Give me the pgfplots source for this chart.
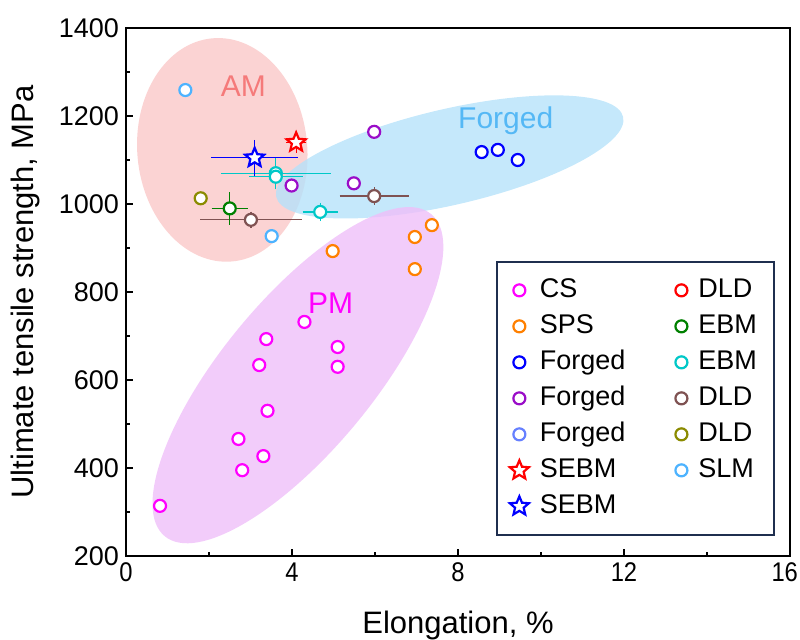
\documentclass[border=0pt]{standalone}
\usepackage{fontspec}
\setmainfont{Liberation Sans}
\usepackage{pgfplots}
\pgfplotsset{compat=1.18}
\usetikzlibrary{shapes.geometric}

\definecolor{cs}{HTML}{FF00FF}
\definecolor{sps}{HTML}{FF8000}
\definecolor{forgedA}{HTML}{0000FF}
\definecolor{forgedB}{HTML}{9A0DC8}
\definecolor{forgedC}{HTML}{6680FF}
\definecolor{sebmr}{HTML}{FF0000}
\definecolor{sebmb}{HTML}{0000FF}
\definecolor{dldr}{HTML}{FF0000}
\definecolor{ebmg}{HTML}{008000}
\definecolor{ebmc}{HTML}{00C8C8}
\definecolor{dldb}{HTML}{7F5252}
\definecolor{dldo}{HTML}{8B8B00}
\definecolor{slm}{HTML}{4DB3FF}
\definecolor{amfill}{HTML}{FAC8C8}
\definecolor{forgedfill}{HTML}{B6E2FA}
\definecolor{pmfill}{HTML}{EFBFF9}
\definecolor{amtext}{HTML}{F57A7A}
\definecolor{forgedtext}{HTML}{55B8F5}
\definecolor{pmtext}{HTML}{FF00FF}
\definecolor{legframe}{HTML}{1F2F4F}

\pgfdeclareplotmark{fstar}{%
  \pgfpathmoveto{\pgfqpointpolar{90}{\pgfplotmarksize}}%
  \pgfpathlineto{\pgfqpointpolar{126}{0.45\pgfplotmarksize}}%
  \pgfpathlineto{\pgfqpointpolar{162}{\pgfplotmarksize}}%
  \pgfpathlineto{\pgfqpointpolar{198}{0.45\pgfplotmarksize}}%
  \pgfpathlineto{\pgfqpointpolar{234}{\pgfplotmarksize}}%
  \pgfpathlineto{\pgfqpointpolar{270}{0.45\pgfplotmarksize}}%
  \pgfpathlineto{\pgfqpointpolar{306}{\pgfplotmarksize}}%
  \pgfpathlineto{\pgfqpointpolar{342}{0.45\pgfplotmarksize}}%
  \pgfpathlineto{\pgfqpointpolar{18}{\pgfplotmarksize}}%
  \pgfpathlineto{\pgfqpointpolar{54}{0.45\pgfplotmarksize}}%
  \pgfpathclose
  \pgfusepathqfillstroke
}

\pgfplotsset{
  mk/.style={only marks, mark=*, mark size=3pt, line width=1.1pt, color=#1, mark options={fill=white, solid}},
  st/.style={only marks, mark=fstar, mark size=5pt, line width=1.1pt, color=#1, mark options={fill=white, solid}},
  eb/.style={error bars/.cd, x dir=both, x explicit, y dir=both, y explicit,
    error bar style={line width=0.6pt, color=#1},
    error mark options={line width=0.6pt, mark size=3pt, color=#1}},
}

\begin{document}
\begin{tikzpicture}
\begin{axis}[
  scale only axis, width=332pt, height=264pt,
  xmin=0, xmax=16, ymin=200, ymax=1400,
  xtick={0,4,...,16}, ytick={200,400,...,1400},
  xticklabels={0,4,8,12,{16\hspace*{6pt}}},
  minor x tick num=1, minor y tick num=1,
  tick align=inside, tick pos=left,
  major tick length=3.5pt, minor tick length=2pt,
  axis line style={line width=1pt},
  every tick/.style={black, line width=0.8pt},
  /pgf/number format/assume math mode=true,
  /pgf/number format/set thousands separator={},
  ticklabel style={font=\fontsize{13.5}{15}\selectfont},
  xticklabel style={xscale=0.88},
  xlabel={Elongation, \%}, ylabel={Ultimate tensile strength, MPa},
  label style={font=\fontsize{15.5}{18}\selectfont},
  xlabel style={at={(axis description cs:0.5,-0.1307)}, anchor=center},
  ylabel style={at={(axis description cs:-0.152,0.5)}, anchor=center},
  legend columns=2,
  legend style={at={(0.557,0.559)}, anchor=north west, draw=legframe, line width=1pt,
    font=\fontsize{13.5}{15}\selectfont, inner xsep=6.5pt, inner ysep=7.75pt,
    row sep=5pt, cells={anchor=west},
    nodes={inner ysep=0pt, text height=10pt, text depth=3pt},
    /tikz/every odd column/.append style={column sep=3.5pt},
    /tikz/every even column/.append style={column sep=23pt}},
]

% background ellipses
\node[ellipse, draw=none, fill=amfill, fill opacity=0.8, inner sep=0pt,
  minimum width=85pt, minimum height=112pt, rotate=5] at (axis cs:2.32,1123) {};
\node[ellipse, draw=none, fill=forgedfill, fill opacity=0.8, inner sep=0pt,
  minimum width=178pt, minimum height=48pt, rotate=13] at (axis cs:7.80,1107) {};
\node[ellipse, draw=none, fill=pmfill, fill opacity=0.8, inner sep=0pt,
  minimum width=209pt, minimum height=75.6pt, rotate=50.4] at (axis cs:4.143,611) {};

\node[text=amtext, font=\fontsize{15}{18}\selectfont] at (axis cs:2.83,1268) {AM};
\node[text=forgedtext, font=\fontsize{15}{18}\selectfont] at (axis cs:9.15,1189) {Forged};
\node[text=pmtext, font=\fontsize{15}{18}\selectfont] at (axis cs:4.93,775) {PM};

% data
\addplot[forget plot, mk=cs] coordinates {
  (0.82,314) (3.38,693) (3.21,634) (4.30,732) (5.10,675)
  (5.10,630) (3.41,530) (2.71,466) (3.31,427) (2.80,395)};
\addplot[forget plot, mk=sps] coordinates {
  (4.98,893) (6.96,925) (7.37,952) (6.96,852)};
\addplot[forget plot, mk=forgedA] coordinates {
  (8.57,1118) (8.96,1123) (9.44,1100)};
\addplot[forget plot, mk=forgedB] coordinates {
  (5.98,1164) (5.49,1047) (3.99,1042)};
\addplot[forget plot, mk=slm] coordinates {
  (1.43,1259) (3.51,927)};
\addplot[forget plot, mk=dldo] coordinates {(1.80,1013)};
\addplot[forget plot, mk=dldb, eb=dldb] coordinates {
  (5.98,1018) +- (0.69,6)
  (3.01,964) +- (1.08,5)};
\addplot[forget plot, mk=ebmg, eb=ebmg] coordinates {(2.50,990) +- (0.29,23)};
\addplot[forget plot, mk=ebmc, eb=ebmc] coordinates {
  (3.61,1070) +- (1.18,20)
  (3.61,1062) +- (0.50,15)
  (4.68,982) +- (0.28,7)};
\addplot[forget plot, st=sebmb, eb=sebmb] coordinates {(3.10,1105) +- (0.90,27)};
\addplot[forget plot, st=sebmr, eb=sebmr] coordinates {(4.10,1140) +- (0.10,10)};

% legend (row-wise order for a 7 + 6 column layout)
\addlegendimage{mk=cs}\addlegendentry{CS}
\addlegendimage{mk=dldr}\addlegendentry{DLD}
\addlegendimage{mk=sps}\addlegendentry{SPS}
\addlegendimage{mk=ebmg}\addlegendentry{EBM}
\addlegendimage{mk=forgedA}\addlegendentry{Forged}
\addlegendimage{mk=ebmc}\addlegendentry{EBM}
\addlegendimage{mk=forgedB}\addlegendentry{Forged}
\addlegendimage{mk=dldb}\addlegendentry{DLD}
\addlegendimage{mk=forgedC}\addlegendentry{Forged}
\addlegendimage{mk=dldo}\addlegendentry{DLD}
\addlegendimage{st=sebmr}\addlegendentry{SEBM}
\addlegendimage{mk=slm}\addlegendentry{SLM}
\addlegendimage{st=sebmb}\addlegendentry{SEBM}
\end{axis}
\pgfresetboundingbox
\path ([shift={(-63pt,-41.5pt)}]current axis.south west) rectangle ([shift={(5pt,14pt)}]current axis.north east);
\end{tikzpicture}
\end{document}
